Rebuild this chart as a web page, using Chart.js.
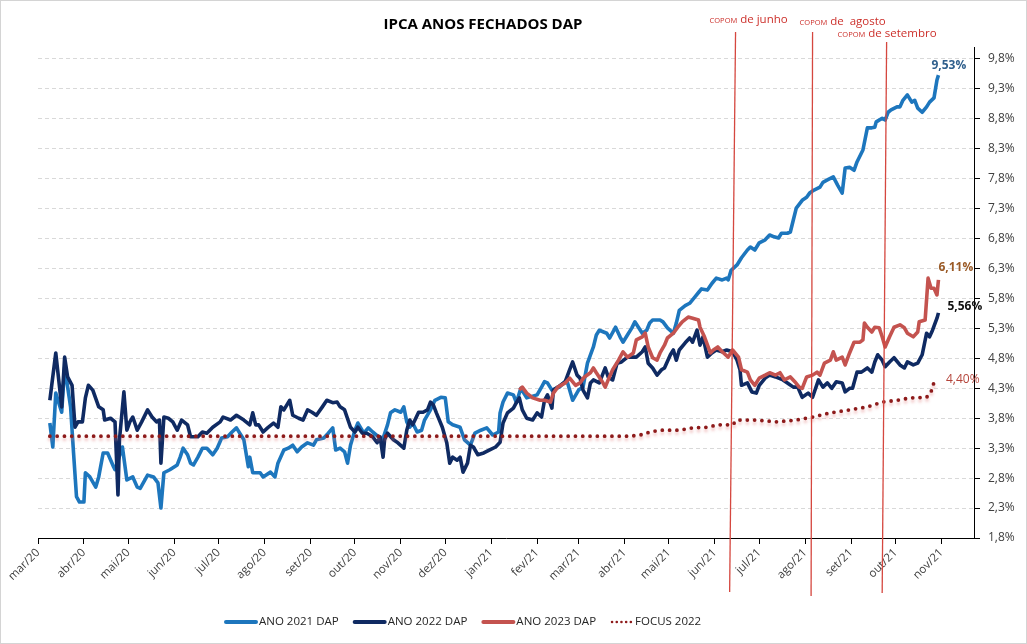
<!DOCTYPE html>
<html>
<head>
<meta charset="utf-8">
<title>IPCA ANOS FECHADOS DAP</title>
<script src="https://cdn.jsdelivr.net/npm/chart.js@4/dist/chart.umd.min.js"></script>
<style>
  html, body { margin: 0; padding: 0; background: #fff; }
  #wrap { width: 1027px; height: 644px; position: relative; }
</style>
</head>
<body>
<div id="wrap"><canvas id="chart"></canvas></div>
<script>
// eixo x: dias desde 01/03/2020
const monthDays = [0, 31, 61, 92, 122, 153, 184, 214, 245, 275, 306, 337, 365, 396, 426, 457, 487, 518, 549, 579, 610];
const monthLabels = ['mar/20', 'abr/20', 'mai/20', 'jun/20', 'jul/20', 'ago/20', 'set/20', 'out/20', 'nov/20', 'dez/20',
    'jan/21', 'fev/21', 'mar/21', 'abr/21', 'mai/21', 'jun/21', 'jul/21', 'ago/21', 'set/21', 'out/21', 'nov/21'];
const yTicks = [1.8, 2.3, 2.8, 3.3, 3.8, 4.3, 4.8, 5.3, 5.8, 6.3, 6.8, 7.3, 7.8, 8.3, 8.8, 9.3, 9.8];

const seriesNames = ['ANO 2021 DAP', 'ANO 2022 DAP', 'ANO 2023 DAP', 'FOCUS 2022'];
const seriesColors = ['#1d76bd', '#0f2a62', '#c4534f', '#8e1b1b'];
const endLabelColors = ['#2f5f8c', '#111111', '#9a5a26', '#b4443a'];

// [dia, taxa %]
const ano2021 = [
    [8, 3.72], [10, 3.32], [12, 4.22], [14, 4.06], [16, 3.90], [18, 4.66], [22, 3.99], [24, 3.22], [26, 2.49], [28, 2.40],
    [31, 2.40], [32, 2.89], [35, 2.82], [39, 2.65], [41, 2.82], [44, 3.22], [47, 3.22], [51, 2.99], [52, 2.94], [57, 3.32],
    [60, 2.77], [64, 2.82], [67, 2.65], [69, 2.63], [74, 2.85], [78, 2.82], [81, 2.72], [83, 2.30], [85, 2.89], [89, 2.94],
    [94, 3.02], [96, 3.15], [98, 3.30], [101, 3.19], [103, 3.05], [105, 3.02], [108, 3.15], [111, 3.30], [114, 3.30], [118, 3.19],
    [121, 3.30], [124, 3.47], [128, 3.49], [131, 3.57], [134, 3.64], [139, 3.44], [142, 2.99], [143, 3.15], [145, 2.89], [150, 2.89],
    [152, 2.82], [157, 2.90], [160, 2.82], [162, 3.05], [166, 3.27], [169, 3.30], [172, 3.35], [175, 3.24], [178, 3.32], [182, 3.39],
    [186, 3.35], [188, 3.44], [193, 3.47], [196, 3.55], [199, 3.64], [201, 3.27], [204, 3.30], [207, 3.24], [209, 3.05], [211, 3.35],
    [214, 3.60], [216, 3.72], [220, 3.55], [223, 3.64], [226, 3.57], [230, 3.49], [232, 3.39], [236, 3.69], [238, 3.89], [241, 3.94],
    [245, 3.90], [247, 3.99], [249, 3.74], [251, 3.65], [253, 3.72], [256, 3.57], [259, 3.60], [261, 3.77], [265, 3.94], [268, 4.10],
    [272, 4.15], [275, 4.14], [277, 3.74], [280, 3.69], [285, 3.65], [288, 3.44], [292, 3.35], [295, 3.55], [299, 3.60], [303, 3.64],
    [307, 3.52], [311, 3.57], [312, 3.89], [314, 4.07], [317, 4.22], [321, 4.19], [323, 4.06], [326, 4.30], [330, 4.14], [337, 4.19],
    [340, 4.32], [342, 4.41], [344, 4.39], [347, 4.27], [352, 4.32], [357, 4.44], [361, 4.10], [365, 4.27], [368, 4.32], [371, 4.72],
    [375, 4.99], [377, 5.19], [379, 5.27], [384, 5.22], [386, 5.14], [390, 5.32], [393, 5.16], [395, 5.07], [398, 5.19], [401, 5.31],
    [403, 5.41], [408, 5.22], [411, 5.27], [413, 5.39], [415, 5.44], [420, 5.44], [422, 5.41], [425, 5.31], [429, 5.22], [431, 5.39],
    [433, 5.60], [437, 5.68], [440, 5.72], [444, 5.84], [446, 5.90], [448, 5.96], [452, 5.94], [455, 6.05], [458, 6.14], [462, 6.11],
    [465, 6.14], [466, 6.11], [468, 6.27], [472, 6.36], [475, 6.48], [479, 6.61], [481, 6.66], [484, 6.61], [487, 6.73], [491, 6.78],
    [494, 6.86], [497, 6.83], [500, 6.81], [502, 6.89], [506, 6.89], [508, 6.91], [510, 7.11], [512, 7.31], [516, 7.44], [519, 7.49],
    [521, 7.56], [524, 7.61], [528, 7.66], [530, 7.74], [533, 7.78], [537, 7.83], [540, 7.69], [543, 7.56], [545, 7.98], [548, 7.99],
    [551, 7.94], [553, 8.08], [557, 8.28], [560, 8.65], [563, 8.65], [565, 8.66], [566, 8.75], [570, 8.81], [572, 8.78], [574, 8.91],
    [576, 8.95], [580, 9.00], [582, 9.00], [584, 9.11], [587, 9.20], [590, 9.08], [592, 9.11], [594, 8.98], [597, 8.91], [600, 9.00],
    [602, 9.08], [605, 9.15], [607, 9.45], [608, 9.53]
];

const ano2022 = [
    [8, 4.10], [12, 4.89], [14, 4.44], [16, 3.99], [18, 4.82], [20, 4.49], [23, 4.35], [25, 3.65], [27, 3.74], [30, 3.74],
    [32, 4.14], [34, 4.35], [37, 4.27], [41, 3.99], [44, 3.94], [45, 3.77], [49, 3.80], [52, 3.74], [54, 2.52], [55, 3.44],
    [58, 4.24], [60, 3.60], [62, 3.74], [64, 3.82], [67, 3.60], [70, 3.74], [74, 3.94], [77, 3.82], [80, 3.74], [82, 3.77],
    [83, 3.05], [85, 3.82], [88, 3.80], [91, 3.74], [94, 3.60], [97, 3.77], [101, 3.69], [103, 3.49], [108, 3.49], [111, 3.57],
    [114, 3.55], [118, 3.65], [123, 3.74], [125, 3.82], [130, 3.77], [134, 3.85], [139, 3.77], [143, 3.69], [145, 3.89], [147, 3.69],
    [149, 3.69], [152, 3.57], [155, 3.64], [159, 3.72], [162, 3.65], [164, 3.99], [166, 3.94], [170, 4.10], [172, 3.85], [176, 3.80],
    [179, 3.77], [182, 3.94], [185, 3.90], [188, 3.85], [192, 3.99], [195, 4.10], [199, 4.06], [202, 4.07], [204, 3.99], [207, 3.94],
    [211, 3.65], [214, 3.57], [216, 3.65], [219, 3.55], [222, 3.55], [226, 3.49], [229, 3.39], [231, 3.49], [233, 3.15], [234, 3.44],
    [236, 3.55], [240, 3.44], [243, 3.39], [247, 3.30], [249, 3.60], [251, 3.77], [253, 3.69], [257, 3.90], [260, 3.90], [263, 3.94],
    [265, 4.07], [267, 4.02], [269, 3.89], [273, 3.65], [276, 3.39], [278, 3.05], [280, 3.15], [283, 3.10], [285, 3.15], [287, 2.90],
    [290, 3.05], [292, 3.35], [294, 3.32], [297, 3.19], [301, 3.22], [305, 3.27], [309, 3.32], [312, 3.40], [314, 3.72], [317, 3.89],
    [321, 3.97], [323, 4.06], [325, 4.14], [327, 3.94], [330, 3.80], [334, 3.77], [337, 3.89], [340, 3.82], [342, 4.10], [344, 4.19],
    [347, 3.97], [348, 4.27], [351, 4.32], [356, 4.41], [359, 4.61], [361, 4.74], [364, 4.52], [366, 4.47], [368, 4.27], [371, 4.14],
    [373, 4.39], [375, 4.44], [379, 4.39], [383, 4.64], [385, 4.49], [388, 4.44], [391, 4.72], [394, 4.74], [398, 4.82], [401, 4.82],
    [404, 4.82], [408, 4.91], [410, 4.99], [412, 4.72], [415, 4.64], [418, 4.52], [421, 4.61], [423, 4.64], [427, 4.86], [429, 4.94],
    [431, 4.77], [433, 4.94], [437, 5.06], [440, 5.14], [442, 5.07], [445, 5.27], [447, 5.02], [449, 5.16], [452, 4.82], [455, 4.89],
    [458, 4.94], [462, 4.91], [465, 4.94], [469, 4.91], [472, 4.77], [474, 4.61], [475, 4.35], [479, 4.39], [482, 4.24], [485, 4.22],
    [487, 4.35], [491, 4.47], [494, 4.52], [498, 4.49], [503, 4.44], [506, 4.39], [510, 4.32], [513, 4.32], [516, 4.15], [520, 4.22],
    [523, 4.15], [527, 4.44], [530, 4.32], [533, 4.39], [536, 4.30], [539, 4.41], [543, 4.39], [545, 4.24], [548, 4.30], [550, 4.30],
    [553, 4.57], [556, 4.57], [560, 4.64], [563, 4.57], [565, 4.74], [567, 4.86], [570, 4.77], [572, 4.66], [575, 4.74], [578, 4.81],
    [582, 4.69], [585, 4.64], [587, 4.74], [591, 4.69], [594, 4.72], [597, 4.86], [600, 5.22], [602, 5.16], [604, 5.27], [607, 5.47],
    [608, 5.56]
];

const ano2023 = [
    [325, 4.27], [327, 4.32], [330, 4.22], [334, 4.14], [339, 4.10], [342, 4.10], [346, 4.07], [348, 4.22], [351, 4.32], [356, 4.39],
    [359, 4.47], [363, 4.35], [366, 4.39], [369, 4.49], [373, 4.56], [375, 4.64], [377, 4.56], [381, 4.41], [383, 4.32], [385, 4.44],
    [388, 4.61], [392, 4.77], [395, 4.91], [398, 4.82], [402, 4.89], [404, 5.11], [408, 5.16], [410, 5.22], [412, 4.99], [415, 4.81],
    [418, 4.77], [420, 4.89], [423, 5.02], [425, 5.14], [429, 5.22], [432, 5.32], [435, 5.41], [439, 5.49], [442, 5.47], [446, 5.44],
    [447, 5.32], [450, 5.16], [454, 4.89], [456, 4.94], [459, 4.99], [462, 4.91], [466, 4.82], [469, 4.94], [473, 4.82], [475, 4.61],
    [479, 4.57], [481, 4.44], [484, 4.35], [487, 4.47], [491, 4.52], [494, 4.56], [498, 4.52], [501, 4.56], [504, 4.44], [508, 4.49],
    [511, 4.41], [514, 4.32], [516, 4.30], [519, 4.49], [523, 4.52], [526, 4.57], [528, 4.52], [531, 4.72], [535, 4.77], [537, 4.91],
    [539, 4.77], [543, 4.82], [545, 4.69], [548, 4.89], [551, 5.07], [555, 5.07], [557, 5.11], [558, 5.39], [560, 5.32], [563, 5.24],
    [565, 5.32], [568, 5.31], [570, 5.16], [572, 4.99], [575, 5.16], [578, 5.32], [582, 5.36], [585, 5.31], [587, 5.22], [591, 5.16],
    [594, 5.24], [595, 5.41], [599, 5.44], [601, 6.14], [603, 5.97], [605, 5.97], [607, 5.86], [608, 6.11]
];

const focus2022 = [
    [8, 3.50], [100, 3.50], [200, 3.50], [300, 3.50], [400, 3.50], [409, 3.53], [413, 3.57], [420, 3.60], [433, 3.60], [442, 3.64],
    [452, 3.65], [459, 3.69], [469, 3.69], [472, 3.77], [485, 3.77], [499, 3.74], [512, 3.77], [523, 3.82], [535, 3.89], [548, 3.94],
    [560, 3.99], [570, 4.07], [580, 4.10], [589, 4.14], [600, 4.15], [603, 4.24], [605, 4.40]
];

// reuniões do COPOM (dia no topo e na base da linha desenhada)
const copomDays = [471, 523, 573];
const copomDaysBottom = [467, 522, 570];
const copomMonths = ['de junho', 'de  agosto', 'de setembro'];

const FONT = '"Open Sans", "DejaVu Sans", sans-serif';

function pct(v, d) {
    return v.toFixed(d).replace('.', ',') + '%';
}

function toXY(arr) {
    return arr.map(function(p) { return { x: p[0], y: p[1] }; });
}

const allSeries = [ano2021, ano2022, ano2023, focus2022];

// sombra rosada da linha pontilhada
const focusShadow = {
    id: 'focusShadow',
    beforeDatasetDraw(chart, args) {
        if (args.index !== 3) return;
        const c = chart.ctx;
        c.save();
        c.shadowColor = 'rgba(225,120,120,0.45)';
        c.shadowBlur = 3;
        c.shadowOffsetY = 3;
    },
    afterDatasetDraw(chart, args) {
        if (args.index === 3) chart.ctx.restore();
    }
};

const extras = {
    id: 'extras',
    afterDatasetsDraw(chart) {
        const { ctx, chartArea } = chart;
        const x = chart.scales.x;
        const topGap = [15, 15, 5];
        const bottomGap = [54, 58, 55];
        ctx.save();
        ctx.strokeStyle = '#d5473f';
        ctx.lineWidth = 1.3;
        copomDays.forEach(function(d, i) {
            ctx.beginPath();
            ctx.moveTo(x.getPixelForValue(d), chartArea.top - topGap[i]);
            ctx.lineTo(x.getPixelForValue(copomDaysBottom[i]), chartArea.bottom + bottomGap[i]);
            ctx.stroke();
        });
        ctx.restore();
    },
    afterDraw(chart) {
        const { ctx } = chart;
        const x = chart.scales.x, y = chart.scales.y;
        ctx.save();

        // moldura
        ctx.strokeStyle = '#d4d4d4';
        ctx.lineWidth = 1;
        ctx.strokeRect(0.5, 0.5, chart.width - 1, chart.height - 1);

        // título
        ctx.fillStyle = '#000';
        ctx.font = 'bold 15px ' + FONT;
        ctx.textAlign = 'center';
        ctx.textBaseline = 'middle';
        ctx.fillText('IPCA ANOS FECHADOS DAP', 483, 25);

        // rótulos do COPOM
        const labelDx = [-26, -13, -49];
        const labelBase = [23, 25, 37];
        ctx.textAlign = 'left';
        ctx.textBaseline = 'alphabetic';
        ctx.fillStyle = '#cc2f2a';
        copomDays.forEach(function(d, i) {
            let lx = x.getPixelForValue(d) + labelDx[i];
            ctx.font = '7.5px ' + FONT;
            ctx.fillText('COPOM', lx, labelBase[i]);
            lx += ctx.measureText('COPOM').width + 3;
            ctx.font = '11.5px ' + FONT;
            ctx.fillText(copomMonths[i], lx, labelBase[i]);
        });

        // rótulos do último valor
        const endDx = [-7, 9, 0, 12];
        const endDy = [-10, -6, -12, -3];
        const endBold = [true, true, true, false];
        ctx.textBaseline = 'middle';
        allSeries.forEach(function(s, i) {
            const last = s[s.length - 1];
            const px = x.getPixelForValue(last[0]);
            const py = y.getPixelForValue(last[1]);
            ctx.font = (endBold[i] ? 'bold ' : '') + '12px ' + FONT;
            ctx.fillStyle = endLabelColors[i];
            ctx.fillText(pct(last[1], 2), px + endDx[i], py + endDy[i]);
        });

        // legenda
        let lx = 226;
        const ly = 622;
        ctx.font = '11.5px ' + FONT;
        seriesNames.forEach(function(name, i) {
            ctx.strokeStyle = seriesColors[i];
            ctx.lineCap = 'round';
            let w = 30;
            if (i === 3) {
                w = 20;
                ctx.lineWidth = 2.6;
                ctx.setLineDash([0, 4.7]);
            } else {
                ctx.lineWidth = 4;
                ctx.setLineDash([]);
            }
            ctx.beginPath();
            ctx.moveTo(lx, ly);
            ctx.lineTo(lx + w, ly);
            ctx.stroke();
            ctx.setLineDash([]);
            ctx.fillStyle = '#262626';
            ctx.fillText(name, lx + w + 3, ly);
            lx += w + 3 + ctx.measureText(name).width + 16;
        });
        ctx.restore();
    }
};

const datasets = allSeries.map(function(s, i) {
    const ds = {
        label: seriesNames[i],
        data: toXY(s),
        borderColor: seriesColors[i],
        backgroundColor: seriesColors[i],
        borderWidth: 3.6,
        pointRadius: 0,
        tension: 0,
        borderJoinStyle: 'round',
        order: 4 - i
    };
    if (i === 3) {
        ds.borderWidth = 3.8;
        ds.borderDash = [0, 7.3];
        ds.borderCapStyle = 'round';
    }
    return ds;
});

new Chart(document.getElementById('chart'), {
    type: 'line',
    data: { datasets: datasets },
    options: {
        responsive: true,
        maintainAspectRatio: false,
        animation: false,
        layout: { padding: { left: 38, right: 0, top: 47, bottom: 0 } },
        plugins: {
            legend: { display: false },
            tooltip: { enabled: false }
        },
        scales: {
            x: {
                type: 'linear',
                min: 0,
                max: 632,
                afterBuildTicks: function(scale) {
                    scale.ticks = monthDays.map(function(v) { return { value: v }; });
                },
                afterFit: function(scale) { scale.height = 106; },
                grid: { drawOnChartArea: false, drawTicks: true, tickLength: 6, tickColor: '#000' },
                border: { color: '#000', width: 1 },
                ticks: {
                    autoSkip: false,
                    minRotation: 45,
                    maxRotation: 45,
                    padding: 2,
                    color: '#404040',
                    font: { family: FONT, size: 11.5 },
                    callback: function(value) {
                        return monthLabels[monthDays.indexOf(value)];
                    }
                }
            },
            y: {
                position: 'right',
                min: 1.8,
                max: 10.0,
                afterBuildTicks: function(scale) {
                    scale.ticks = yTicks.map(function(v) { return { value: v }; });
                },
                afterFit: function(scale) { scale.width = 53; },
                grid: { color: '#d9d9d9', lineWidth: 1, tickLength: 6, tickColor: '#000', tickBorderDash: [] },
                border: { color: '#000', width: 1, dash: [4, 3] },
                ticks: {
                    padding: 8,
                    color: '#404040',
                    font: { family: FONT, size: 12 },
                    callback: function(value) { return pct(value, 1); }
                }
            }
        }
    },
    plugins: [focusShadow, extras]
});
</script>
</body>
</html>
